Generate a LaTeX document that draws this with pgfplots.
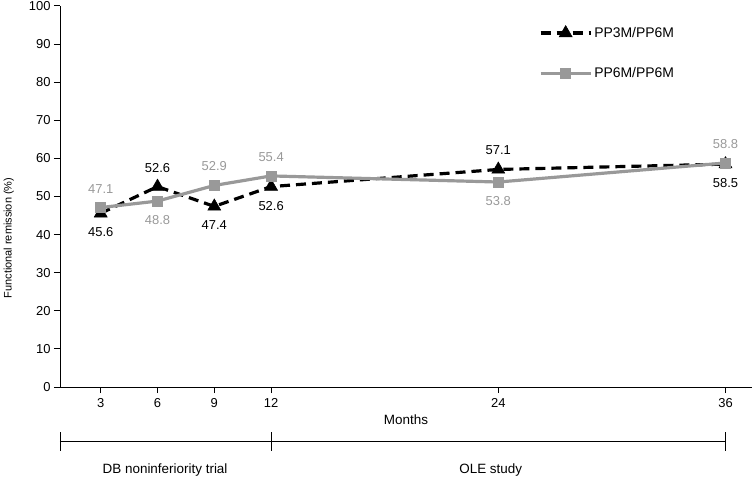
\documentclass[border=0pt]{standalone}
\usepackage{pgfplots}
\pgfplotsset{compat=1.18}
\usepackage{fontspec}
\setmainfont{Liberation Sans}
\definecolor{lgray}{HTML}{999999}
\begin{document}
\begin{tikzpicture}
\begin{axis}[
  scale only axis, width=692bp, height=381bp,
  xmin=0.85, xmax=37.4, ymin=0, ymax=100,
  axis lines=left, axis line style={-, line width=1pt},
  xtick={3,6,9,12,24,36}, ytick={0,10,...,100},
  tick align=outside, major tick length=6bp,
  tick style={line width=1pt, black},
  /pgf/number format/assume math mode=true,
  ticklabel style={font=\fontsize{13}{15}\selectfont},
  xticklabel style={yshift=-2bp},
  xlabel={Months},
  xlabel style={at={(axis description cs:0.5,-0.0866)}, anchor=center, font=\fontsize{13.5}{15}\selectfont},
  ylabel={Functional remission (\%)},
  ylabel style={at={(axis description cs:-0.074,0.391)}, anchor=center, font=\fontsize{11}{13}\selectfont},
  clip=false,
  legend cell align=left,
  legend style={draw=none, fill=none, at={(axis description cs:0.692,0.95)}, anchor=north west,
    inner sep=0pt, row sep=25bp, font=\fontsize{14}{16}\selectfont},
  legend image code/.code={\draw[#1, mark repeat=2, mark phase=2] plot coordinates {(0bp,0bp) (25bp,0bp) (50bp,0bp)};},
]
\addplot[black, line width=3.2pt, dash pattern=on 10bp off 6bp, mark=triangle*, mark size=7.5bp,
  mark options={solid, line width=0.5pt}]
  coordinates {(3,45.6) (6,52.6) (9,47.4) (12,52.6) (24,57.1) (36,58.5)};
\addlegendentry{PP3M/PP6M}
\addplot[lgray, line width=3.2pt, mark=square*, mark size=5bp, mark options={solid, line width=0.5pt}]
  coordinates {(3,47.1) (6,48.8) (9,52.9) (12,55.4) (24,53.8) (36,58.8)};
\addlegendentry{PP6M/PP6M}

% data labels
\begin{scope}[every node/.style={font=\fontsize{13}{15}\selectfont, anchor=center}]
\node[black] at ([yshift=-19bp]axis cs:3,45.6) {45.6};
\node[black] at ([yshift=19bp]axis cs:6,52.6) {52.6};
\node[black] at ([yshift=-19bp]axis cs:9,47.4) {47.4};
\node[black] at ([yshift=-19bp]axis cs:12,52.6) {52.6};
\node[black] at ([yshift=19bp]axis cs:24,57.1) {57.1};
\node[black] at ([yshift=-19bp]axis cs:36,58.5) {58.5};
\node[lgray] at ([yshift=19bp]axis cs:3,47.1) {47.1};
\node[lgray] at ([yshift=-19bp]axis cs:6,48.8) {48.8};
\node[lgray] at ([yshift=19bp]axis cs:9,52.9) {52.9};
\node[lgray] at ([yshift=19bp]axis cs:12,55.4) {55.4};
\node[lgray] at ([yshift=-19bp]axis cs:24,53.8) {53.8};
\node[lgray] at ([yshift=19bp]axis cs:36,58.8) {58.8};
\end{scope}

% phase bracket
\draw[line width=1pt] ([yshift=-54bp]axis cs:0.85,0) -- ([yshift=-54bp]axis cs:36,0);
\draw[line width=1pt] ([yshift=-45bp]axis cs:0.85,0) -- ([yshift=-64bp]axis cs:0.85,0);
\draw[line width=1pt] ([yshift=-45bp]axis cs:12,0) -- ([yshift=-64bp]axis cs:12,0);
\draw[line width=1pt] ([yshift=-45bp]axis cs:36,0) -- ([yshift=-64bp]axis cs:36,0);
\node[font=\fontsize{13.5}{15}\selectfont, anchor=center] at ([yshift=-83bp]axis cs:6.4,0) {DB noninferiority trial};
\node[font=\fontsize{13.5}{15}\selectfont, anchor=center] at ([yshift=-83bp]axis cs:23.6,0) {OLE study};
\end{axis}
\pgfresetboundingbox
\useasboundingbox ([shift={(-60bp,-90bp)}]current axis.south west) rectangle ([shift={(693bp,387bp)}]current axis.south west);
\end{tikzpicture}
\end{document}
